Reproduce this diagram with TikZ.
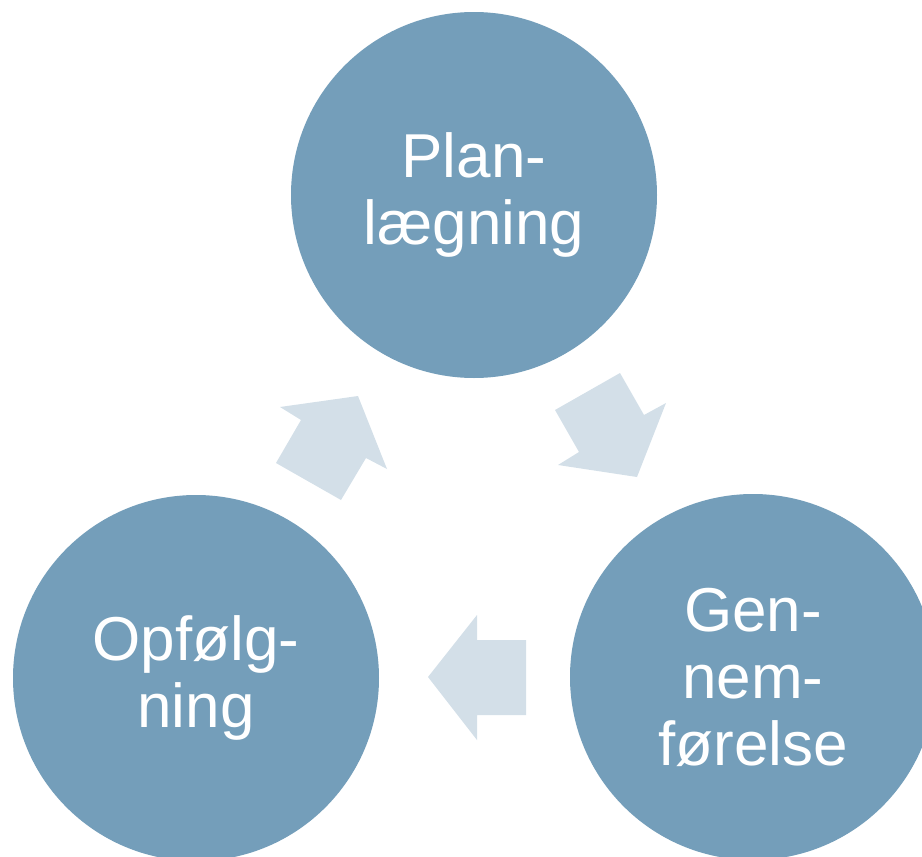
\documentclass[tikz,border=0pt]{standalone}
\usepackage{fontspec}
\setmainfont{Liberation Sans}
\definecolor{circblue}{RGB}{116,158,186}
\definecolor{arrowblue}{RGB}{211,223,232}
\begin{document}
\begin{tikzpicture}[x=1pt,y=-1pt,
  phase/.style={circle,fill=circblue,minimum size=366pt,inner sep=0pt,text=white,align=center,
    font=\fontsize{62pt}{67pt}\selectfont},
  blockarrow/.style={fill=arrowblue}]
\useasboundingbox (0,0) rectangle (922,857);
\clip (0,0) rectangle (922,857);
\node[phase] (plan) at (474,195) {Plan-\\lægning};
\node[phase] (gen) at (753,677) {Gen-\\nem-\\førelse};
\node[phase] (opf) at (196,678) {Opfølg-\\ning};
\fill[blockarrow] (555,410) -- (620,373) -- (644,415) -- (666,403) -- (637,477) -- (558,465) -- (579,452) -- cycle;
\fill[blockarrow] (428,677) -- (477,615) -- (477,640) -- (526,640) -- (526,715) -- (477,715) -- (477,740) -- cycle;
\fill[blockarrow] (276,463) -- (301,420) -- (280,407) -- (358,396) -- (387,469) -- (366,458) -- (341,500) -- cycle;
\end{tikzpicture}
\end{document}
